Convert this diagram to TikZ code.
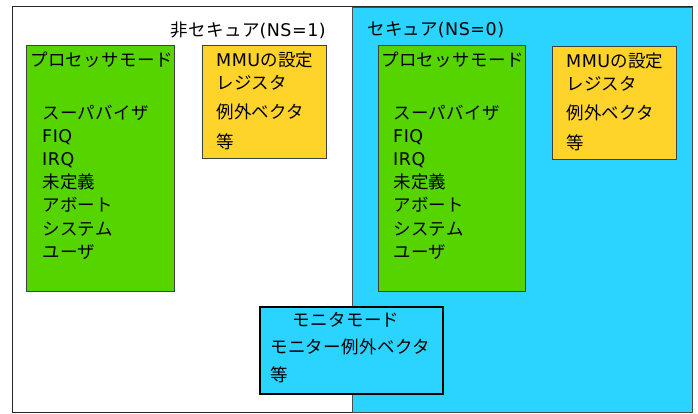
\documentclass[tikz,border=0pt]{standalone}
\usepackage{fontspec}
\setmainfont{Noto Sans CJK JP}[LetterSpace=2]
\newfontfamily\lat{DejaVu Sans}[LetterSpace=3]
\definecolor{secblue}{HTML}{2AD4FF}
\definecolor{pgreen}{HTML}{55D400}
\definecolor{myellow}{HTML}{FFD42A}
\begin{document}
\begin{tikzpicture}[x=1pt,y=-1pt,
  txt/.style={font=\fontsize{17.5}{20}\selectfont, inner sep=0pt, anchor=west},
  boxline/.style={draw=black!75, line width=1pt}]
\useasboundingbox (0,0) rectangle (698,414);
% regions
\draw[black!85, line width=1pt, fill=white] (12,7) rectangle (692,412);
\draw[black!70, line width=0.8pt, fill=secblue] (352,7) rectangle (692,412);
\node[txt, anchor=east] (nslabel) at (326,30) {非セキュア{\lat(NS=1)}};
\node[txt] (slabel) at (367,30) {セキュア{\lat(NS=0)}};
% left green
\node[boxline, fill=pgreen, minimum width=148pt, minimum height=246pt, anchor=north west, inner sep=0pt] (g1) at (26,45) {};
\node[txt] (g1t) at (30,60) {プロセッサモード};
\node[txt, align=left, anchor=north west, font=\fontsize{17.5}{23.1}\selectfont] (g1l) at (42,105) {スーパバイザ\\{\lat FIQ}\\{\lat IRQ}\\未定義\\アボート\\システム\\ユーザ};
% left yellow
\node[boxline, fill=myellow, minimum width=124pt, minimum height=113pt, anchor=north west, inner sep=0pt] (y1) at (202,45) {};
\node[txt] (y1a) at (216,60) {{\lat MMU}の設定};
\node[txt] (y1b) at (216,83) {レジスタ};
\node[txt] (y1c) at (216,112) {例外ベクタ};
\node[txt] (y1d) at (216,142) {等};
% right green
\node[boxline, fill=pgreen, minimum width=147pt, minimum height=246pt, anchor=north west, inner sep=0pt] (g2) at (378,45) {};
\node[txt] (g2t) at (381,60) {プロセッサモード};
\node[txt, align=left, anchor=north west, font=\fontsize{17.5}{23.1}\selectfont] (g2l) at (393,105) {スーパバイザ\\{\lat FIQ}\\{\lat IRQ}\\未定義\\アボート\\システム\\ユーザ};
% right yellow
\node[boxline, fill=myellow, minimum width=124pt, minimum height=113pt, anchor=north west, inner sep=0pt] (y2) at (552,46) {};
\node[txt] (y2a) at (566,61) {{\lat MMU}の設定};
\node[txt] (y2b) at (566,84) {レジスタ};
\node[txt] (y2c) at (566,113) {例外ベクタ};
\node[txt] (y2d) at (566,143) {等};
% monitor
\node[draw=black, line width=1.6pt, fill=secblue, minimum width=183pt, minimum height=87pt, anchor=north west, inner sep=0pt] (mon) at (259,306) {};
\node[txt, anchor=center] (mont) at (346,320) {モニタモード};
\node[txt] (monb) at (270,347) {モニター例外ベクタ};
\node[txt] (monc) at (270,375) {等};
\end{tikzpicture}
\end{document}
